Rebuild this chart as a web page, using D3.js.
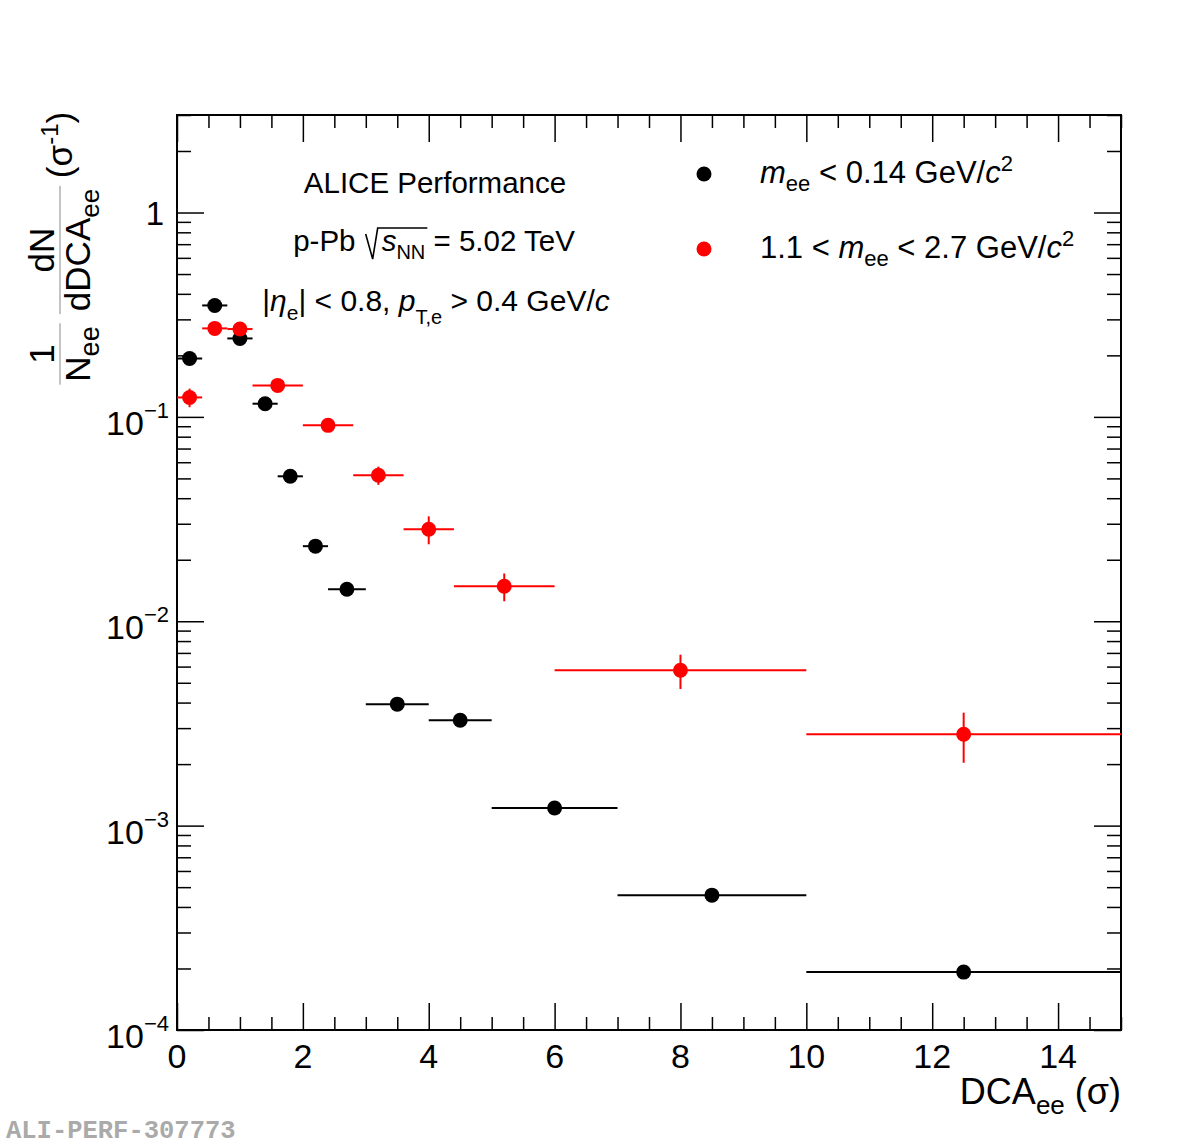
<!DOCTYPE html>
<html>
<head>
<meta charset="utf-8">
<script src="https://cdn.jsdelivr.net/npm/d3@7"></script>
<style>
body { margin: 0; background: #fff; }
text { font-family: "Liberation Sans", Arial, Helvetica, sans-serif; fill: #000; }
</style>
</head>
<body>
<svg width="1182" height="1146"></svg>
<script>
// m_ee < 0.14 GeV/c2 (black)
var blackX  = [0.2, 0.6, 1.0, 1.4, 1.8, 2.2, 2.7, 3.5, 4.5, 6, 8.5, 12.5];
var blackLo = [0, 0.4, 0.8, 1.2, 1.6, 2.0, 2.4, 3.0, 4.0, 5, 7, 10];
var blackHi = [0.4, 0.8, 1.2, 1.6, 2.0, 2.4, 3.0, 4.0, 5.0, 7, 10, 15];
var blackY  = [0.193, 0.351, 0.242, 0.116, 0.0512, 0.0233, 0.01435, 0.00393, 0.00328, 0.00122, 0.000457, 0.000192];
var blackErr = [0.003, 0.005, 0.004, 0.002, 0.001, 0.0005, 0.0003, 0.0001, 0.0001, 0.00003, 0.00001, 0.000005];

// 1.1 < m_ee < 2.7 GeV/c2 (red)
var redX  = [0.2, 0.6, 1.0, 1.6, 2.4, 3.2, 4.0, 5.2, 8, 12.5];
var redLo = [0, 0.4, 0.8, 1.2, 2.0, 2.8, 3.6, 4.4, 6, 10];
var redHi = [0.4, 0.8, 1.2, 2.0, 2.8, 3.6, 4.4, 6.0, 10, 15];
var redY  = [0.1245, 0.271, 0.269, 0.1426, 0.0909, 0.0518, 0.0282, 0.01483, 0.00576, 0.0028];
var redErr = [0.013, 0.015, 0.015, 0.009, 0.006, 0.0053, 0.0044, 0.0023, 0.0011, 0.00077];

var xMajor = [0, 2, 4, 6, 8, 10, 12, 14];
var yMajor = [1e-4, 1e-3, 1e-2, 1e-1, 1];
var yExp = [-4, -3, -2, -1, 0];

var svg = d3.select('svg');
var x = d3.scaleLinear().domain([0, 15]).range([177, 1121]);
var y = d3.scaleLog().domain([1e-4, 3]).range([1030, 115]);

var xMinor = d3.range(0, 15.01, 0.5).filter(v => v % 2 !== 0);
var yMinor = [];
yExp.forEach(e => { for (var k = 2; k <= 9; k++) { var v = k * Math.pow(10, e); if (v <= 3) yMinor.push(v); } });

// ticks on all four sides, pointing inwards
function ticks(axis, tr, vals, size) {
  svg.append('g').attr('transform', tr)
    .call(axis.tickValues(vals).tickSize(size).tickFormat(''))
    .call(g => g.select('.domain').remove())
    .selectAll('line').attr('stroke', '#000').attr('stroke-width', 1.5);
}
ticks(d3.axisBottom(x), 'translate(0,1030)', xMajor, -27);
ticks(d3.axisBottom(x), 'translate(0,1030)', xMinor, -13);
ticks(d3.axisTop(x), 'translate(0,115)', xMajor, -27);
ticks(d3.axisTop(x), 'translate(0,115)', xMinor, -13);
ticks(d3.axisLeft(y), 'translate(177,0)', yMajor, -27);
ticks(d3.axisLeft(y), 'translate(177,0)', yMinor, -14);
ticks(d3.axisRight(y), 'translate(1121,0)', yMajor, -27);
ticks(d3.axisRight(y), 'translate(1121,0)', yMinor, -14);

svg.append('rect')
  .attr('x', x(0)).attr('y', y(3))
  .attr('width', x(15) - x(0)).attr('height', y(1e-4) - y(3))
  .attr('fill', 'none').attr('stroke', '#000').attr('stroke-width', 2);

// text with sub/superscripts
function rich(parent, tx, ty, parts, size, anchor) {
  var t = parent.append('text').attr('x', tx).attr('y', ty)
    .attr('font-size', size).attr('text-anchor', anchor || 'start');
  var cur = 0;
  parts.forEach(p => {
    var s = t.append('tspan').text(p.t);
    var sh = p.sh || 0;
    if (sh - cur !== 0) s.attr('dy', sh - cur);
    cur = sh;
    if (p.s) s.attr('font-size', p.s);
    if (p.i) s.attr('font-style', 'italic');
    if (p.dx) s.attr('dx', p.dx);
  });
  return t;
}

// axis labels
xMajor.forEach(v => {
  svg.append('text').attr('x', x(v)).attr('y', 1068)
    .attr('font-size', 34).attr('text-anchor', 'middle').text(v);
});
yMajor.forEach((v, i) => {
  if (yExp[i] === 0) {
    svg.append('text').attr('x', 164).attr('y', y(v) + 12)
      .attr('font-size', 33).attr('text-anchor', 'end').text('1');
  } else {
    rich(svg, 169, y(v) + 18, [{t: '10'}, {t: '\u2212' + (-yExp[i]), s: 22, sh: -17}], 34, 'end');
  }
});

rich(svg, 1121, 1104, [{t: 'DCA'}, {t: 'ee', s: 26, sh: 10}, {t: ' (\u03c3)', sh: 0}], 36, 'end');

// y title, rotated
var yt = svg.append('g').attr('transform', 'rotate(-90)');
function frac(cy, num, den) {
  var a = rich(yt, -cy, 54, num, 35, 'middle');
  var b = rich(yt, -cy, 90, den, 35, 'middle');
  var w = Math.max(a.node().getBBox().width, b.node().getBBox().width);
  yt.append('line').attr('x1', -cy - w / 2 - 3).attr('x2', -cy + w / 2 + 3)
    .attr('y1', 60).attr('y2', 60).attr('stroke', '#888').attr('stroke-width', 1);
}
frac(354, [{t: '1'}], [{t: 'N'}, {t: 'ee', s: 27, sh: 9}]);
frac(250, [{t: 'dN'}], [{t: 'dDCA'}, {t: 'ee', s: 26, sh: 9}]);
rich(yt, -145, 72, [{t: '(\u03c3'}, {t: '-1', s: 24, sh: -14}, {t: ')', sh: 0}], 35, 'middle');

// data
function series(xs, lo, hi, ys, err, col) {
  var g = svg.append('g');
  xs.forEach((xv, i) => {
    g.append('line').attr('x1', x(lo[i])).attr('x2', x(hi[i]))
      .attr('y1', y(ys[i])).attr('y2', y(ys[i]))
      .attr('stroke', col).attr('stroke-width', 2);
    g.append('line').attr('x1', x(xv)).attr('x2', x(xv))
      .attr('y1', y(ys[i] - err[i])).attr('y2', y(ys[i] + err[i]))
      .attr('stroke', col).attr('stroke-width', 2);
  });
  g.selectAll('circle').data(xs).enter().append('circle')
    .attr('cx', d => x(d)).attr('cy', (d, i) => y(ys[i]))
    .attr('r', 7.5).attr('fill', col);
}
series(blackX, blackLo, blackHi, blackY, blackErr, '#000');
series(redX, redLo, redHi, redY, redErr, '#ff0000');

// legend
svg.append('circle').attr('cx', 704).attr('cy', 174).attr('r', 7.5).attr('fill', '#000');
svg.append('circle').attr('cx', 704).attr('cy', 249).attr('r', 7.5).attr('fill', '#ff0000');
rich(svg, 760, 183, [{t: 'm', i: true}, {t: 'ee', s: 22, sh: 8}, {t: ' < 0.14 GeV/', sh: 0},
  {t: 'c', i: true}, {t: '2', s: 22, sh: -12}], 31);
rich(svg, 760, 258, [{t: '1.1 < '}, {t: 'm', i: true}, {t: 'ee', s: 22, sh: 8}, {t: ' < 2.7 GeV/', sh: 0},
  {t: 'c', i: true}, {t: '2', s: 22, sh: -12}], 31);

// labels
svg.append('text').attr('x', 435).attr('y', 193).attr('font-size', 29.5)
  .attr('text-anchor', 'middle').text('ALICE Performance');

var l2 = rich(svg, 434, 251, [{t: 'p-Pb '}, {t: 's', i: true, dx: 18}, {t: 'NN', s: 20, sh: 8},
  {t: ' = 5.02 TeV', sh: 0}], 29.5, 'middle');
var n2 = l2.node();
var sx = n2.getStartPositionOfChar(5).x, ex = n2.getEndPositionOfChar(7).x;
svg.append('path')
  .attr('d', `M${sx - 16},${234} L${sx - 9},${259} L${sx - 4},${228} L${ex + 2},${228}`)
  .attr('fill', 'none').attr('stroke', '#000').attr('stroke-width', 1.6);

rich(svg, 436, 311, [{t: '|'}, {t: '\u03b7', i: true}, {t: 'e', s: 21, sh: 9}, {t: '| < 0.8, ', sh: 0},
  {t: 'p', i: true}, {t: 'T,e', s: 20, sh: 13}, {t: ' > 0.4 GeV/', sh: 0}, {t: 'c', i: true}], 30, 'middle');

svg.append('text').attr('x', 6).attr('y', 1138)
  .style('font-family', '"Liberation Mono", "DejaVu Sans Mono", monospace')
  .attr('font-weight', 'bold').attr('font-size', 25.5).style('fill', '#aaa')
  .text('ALI-PERF-307773');
</script>
</body>
</html>
